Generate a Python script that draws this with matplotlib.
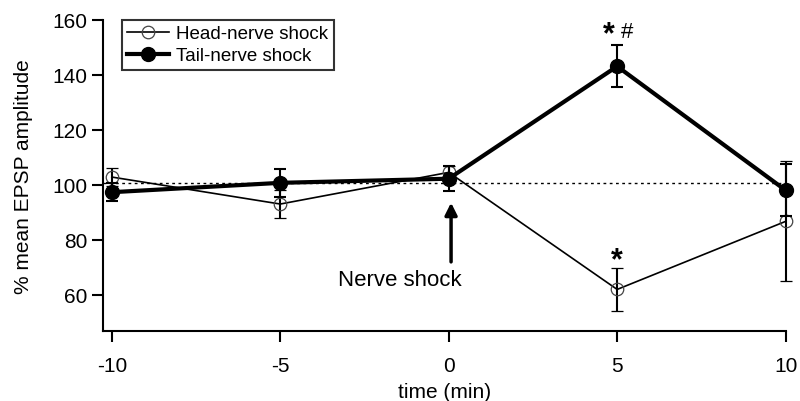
import matplotlib.pyplot as plt
from matplotlib.lines import Line2D

plt.rcParams['font.family'] = ['Liberation Sans', 'DejaVu Sans']

# data
time_min = [-10, -5, 0, 5, 10]
head_mean = [102.8, 93.0, 104.5, 62.0, 86.7]
head_err = [3.2, 5.0, 2.3, 7.7, 21.8]
tail_mean = [97.3, 100.7, 102.2, 143.0, 98.0]
tail_err = [3.2, 5.0, 4.6, 7.6, 9.5]
baseline = 100.8
x_ticks = [-10, -5, 0, 5, 10]
y_ticks = [60, 80, 100, 120, 140, 160]

fig = plt.figure(figsize=(8, 4.02), dpi=100)
ax = fig.add_axes([0.1284, 0.1734, 0.8536, 0.7756])

ax.axhline(baseline, color='black', lw=1.0, ls=(0, (2, 2.5)), zorder=1)

head_style = dict(color='black', lw=1.2, marker='o', ms=9, mfc='none',
                  mec='#444444', mew=0.9)
tail_style = dict(color='black', lw=3, marker='o', ms=10, mfc='black', mec='black')

eb1 = ax.errorbar(time_min, head_mean, yerr=head_err, elinewidth=1.5,
                  capsize=4, capthick=1.5, zorder=3, **head_style)
eb2 = ax.errorbar(time_min, tail_mean, yerr=tail_err, elinewidth=1.5,
                  capsize=4, capthick=1.5, zorder=4, **tail_style)
for eb in (eb1, eb2):
    for art in eb.get_children():
        art.set_clip_on(False)

# significance marks
ax.text(4.75, 154.5, '*', fontsize=22, ha='center', va='center', fontweight='bold')
ax.text(5.3, 155.5, '#', fontsize=16, ha='center', va='center')
ax.text(5, 72.5, '*', fontsize=22, ha='center', va='center', fontweight='bold')

# nerve shock arrow
ax.annotate('', xy=(0.07, 93.5), xytext=(0.07, 72.0),
            arrowprops=dict(arrowstyle='-|>', color='black', lw=2.5,
                            mutation_scale=18, shrinkA=0, shrinkB=0))
ax.text(-1.44, 65.5, 'Nerve shock', fontsize=16, ha='center', va='center')

ax.set_xlim(-10.27, 10)
ax.set_ylim(46.8, 160)
ax.set_xticks(x_ticks)
ax.set_xticklabels([str(t) for t in x_ticks])
ax.set_yticks(y_ticks)
ax.tick_params(direction='out', length=8, width=1.5, labelsize=15, pad=3)
ax.tick_params(axis='x', pad=10)
for s in ['top', 'right']:
    ax.spines[s].set_visible(False)
for s in ['left', 'bottom']:
    ax.spines[s].set_linewidth(1.5)

ax.set_xlabel('time (min)', fontsize=15, labelpad=5)
ax.set_ylabel('% mean EPSP amplitude', fontsize=15, labelpad=14)

handles = [Line2D([], [], **head_style), Line2D([], [], **tail_style)]
leg = ax.legend(handles, ['Head-nerve shock', 'Tail-nerve shock'],
                loc='upper left', bbox_to_anchor=(0.014, 1.03), fontsize=13.5,
                frameon=True, fancybox=False, edgecolor='black',
                handlelength=2.2, borderpad=0.3, labelspacing=0.25,
                handletextpad=0.4)
leg.get_frame().set_linewidth(1.5)

fig.savefig('out.png', dpi=100)
